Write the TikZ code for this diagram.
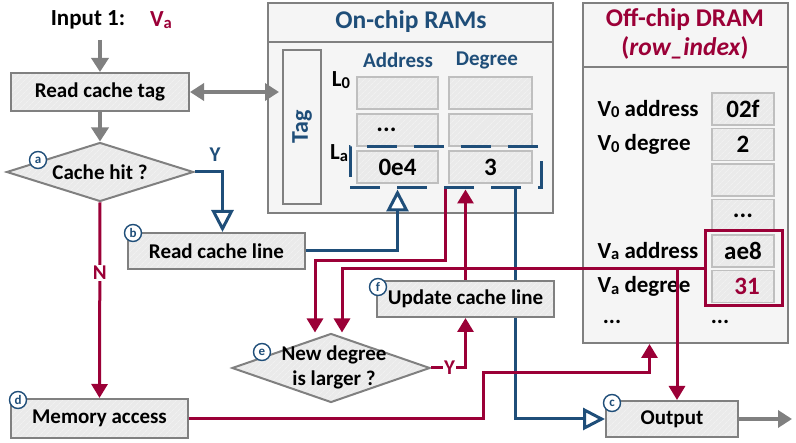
\documentclass[tikz,border=0pt]{standalone}
\usepackage{fontspec}
\usepackage{graphicx}
\setmainfont{Carlito}
\usetikzlibrary{arrows.meta,shapes.geometric,patterns.meta}
\definecolor{dblue}{RGB}{31,78,121}
\definecolor{dred}{RGB}{155,0,55}
\definecolor{lgray}{RGB}{128,128,128}
\definecolor{boxfill}{RGB}{234,234,234}
\definecolor{panelfill}{RGB}{245,245,245}
\newcommand{\lsub}[1]{\raisebox{-1.5pt}{\scalebox{0.72}{#1}}}
\tikzset{
  hatch/.style={preaction={fill=boxfill},preaction={pattern={Lines[angle=45,distance=4pt,line width=0.6pt]},pattern color=black!4}},
  proc/.style={draw=lgray,line width=2pt,hatch,inner sep=0pt},
  cell/.style={draw=black!25,line width=1.5pt,hatch,inner sep=0pt,minimum height=32pt,font=\bfseries\fontsize{25}{28}\selectfont},
  dia/.style={diamond,draw=lgray,line width=2pt,hatch,inner sep=0pt},
  panel/.style={draw=lgray,line width=2pt,fill=panelfill,inner sep=0pt},
  ttl/.style={font=\bfseries\fontsize{25.5}{28}\selectfont},
  hdr/.style={font=\bfseries\fontsize{21}{24}\selectfont,text=dblue},
  lbl/.style={font=\bfseries\fontsize{23}{26}\selectfont},
  letterc/.style={circle,draw=dblue,line width=1.4pt,fill=white,text=dblue,inner sep=0pt,minimum size=17pt,font=\bfseries\fontsize{13}{13}\selectfont},
  garrow/.style={draw=lgray,line width=4pt,-{Triangle[length=14pt,width=17pt]}},
  rline/.style={draw=dred,line width=3pt},
  rarrow/.style={rline,-{Triangle[length=14pt,width=16pt]}},
  barrow/.style={draw=dblue,line width=3pt,-{Triangle[length=22pt,width=22pt,fill=white]}}
}
\begin{document}
\begin{tikzpicture}[x=1pt,y=-1pt,font=\bfseries\fontsize{21}{25}\selectfont]
\useasboundingbox (0,0) rectangle (796,443);
% On-chip RAMs
\node[panel,minimum width=285pt,minimum height=210pt] (ram) at (410.5,108) {};
\draw[lgray,line width=2pt] (ram.west |- 0,42) -- (ram.east |- 0,42);
\node[ttl,text=dblue] (ramtitle) at (411,22) {On-chip RAMs};
\node[panel,minimum width=38pt,minimum height=154pt] (tagram) at (302,127) {};
\node[rotate=90,text=dblue,font=\bfseries\fontsize{24}{26}\selectfont] (tagtext) at (tagram) {Tag};
\node[hdr] (addr) at (398,60) {Address};
\node[hdr] (deg) at (487,60) {Degree};
\node[lbl] (l0) at (341,80) {L\lsub{0}};
\node[lbl] (la) at (339,153) {L\lsub{a}};
\node[cell,minimum width=81pt] (a0) at (397.5,93) {};
\node[cell,minimum width=83pt] (d0) at (490.5,93) {};
\node[cell,minimum width=81pt] (a1) at (397.5,130) {\hspace*{-22pt}...};
\node[cell,minimum width=83pt] (d1) at (490.5,130) {};
\node[cell,minimum width=81pt] (a2) at (397.5,167) {0e4};
\node[cell,minimum width=83pt] (d2) at (490.5,167) {3};
\node[draw=dblue,line width=3pt,dash pattern=on 30pt off 17pt,minimum width=191pt,minimum height=41pt,inner sep=0pt] (lsel) at (445.5,167.5) {};
% Off-chip DRAM
\node[panel,minimum width=205pt,minimum height=340pt] (dram) at (685.5,173) {};
\draw[lgray,line width=2pt] (dram.west |- 0,67) -- (dram.east |- 0,67);
\node[ttl,text=dred] (dramtitle) at (685,20) {Off-chip DRAM};
\node[ttl,text=dred] (dramsub) at (685,48) {(\textit{row\_index})};
\node[cell,minimum width=62pt] (m0) at (743,109) {02f};
\node[cell,minimum width=62pt] (m1) at (743,144.5) {2};
\node[cell,minimum width=62pt] (m2) at (743,180) {};
\node[cell,minimum width=62pt] (m3) at (743,215.5) {...};
\node[cell,minimum width=62pt] (m4) at (743,251) {ae8};
\node[cell,minimum width=62pt,text=dred] (m5) at (743,286.5) {\hspace*{8pt}31};
\node[lbl,anchor=west] (v0a) at (594,109) {V\lsub{0} address};
\node[lbl,anchor=west] (v0d) at (594,144.5) {V\lsub{0} degree};
\node[lbl,anchor=west] (vaa) at (594,251) {V\lsub{a} address};
\node[lbl,anchor=west] (vad) at (594,286.5) {V\lsub{a} degree};
\node[lbl] (dots1) at (612,322) {...};
\node[lbl] (dots2) at (720,322) {...};
\node[draw=dred,line width=3pt,minimum width=77pt,minimum height=75pt] (vsel) at (743.5,268.5) {};
% flow
\node[lbl] (input) at (88,20) {Input 1:};
\node[lbl,text=dred] (inva) at (161,20) {V\lsub{a}};
\coordinate (inarr) at (100,40);
\coordinate (outend) at (792,419);
\node[proc,minimum width=178pt,minimum height=38pt] (rtag) at (100,92) {Read cache tag};
\node[dia,minimum width=187pt,minimum height=59pt] (hit) at (100,172) {};
\node (hittext) at (100,172) {Cache hit ?};
\node[dia,minimum width=198pt,minimum height=69pt] (larger) at (331,368) {};
\node[align=center] (largertext) at (334,367) {New degree\\is larger ?};
\node[proc,minimum width=177pt,minimum height=36pt] (rline) at (216.5,251) {Read cache line};
\node[proc,minimum width=177pt,minimum height=39pt] (mem) at (99.5,418.5) {Memory access};
\node[proc,minimum width=132pt,minimum height=36pt] (out) at (672,419) {Output};
% connectors
\draw[garrow] (inarr) -- (rtag.north);
\draw[garrow,{Triangle[length=14pt,width=17pt]}-{Triangle[length=14pt,width=17pt]}] (rtag.east) -- ([xshift=-3pt]rtag.east -| tagram.west);
\draw[garrow] (rtag.south) -- (hit.north);
\draw[barrow] (hit.east) -| ([xshift=6pt]rline.north);
\node[text=dblue] (hity) at (215,155) {Y};
\draw[rarrow] (hit.south) -- node[pos=0.36,fill=white,text=dred,inner sep=1pt] (hitn) {N} (mem.north);
\draw[barrow] (rline.east) -| (lsel.south -| a2.south);
\draw[barrow] ([xshift=70pt]lsel.south) |- (out.west);
\node[proc,minimum width=177pt,minimum height=36pt] (upd) at (465.5,299) {Update cache line};
\draw[rarrow] (lsel.south) -- ++(0,71) -| ([xshift=-16pt]larger.north);
\draw[rarrow] (vsel.west) -| ([xshift=11pt]larger.north);
\draw[rarrow] ([xshift=5pt]out.north |- vsel.west) -- ([xshift=5pt]out.north);
\draw[rarrow] (upd.north) -- (upd.north |- lsel.south);
\draw[rarrow] (larger.east) -| node[pos=0.27,fill=white,text=dred,inner sep=1pt] (largery) {Y} (upd.south);
\coordinate (mj) at (483,373);
\draw[rarrow] (mem.east) -| (mj) -| ([xshift=-36pt]dram.south);
\draw[garrow] (out.east) -- (outend);
% step letters
\node[letterc] (sa) at (38,160) {a};
\node[letterc] (sb) at (133,233) {b};
\node[letterc] (sc) at (612,403) {c};
\node[letterc] (sd) at (18,400) {d};
\node[letterc] (se) at (262,352) {e};
\node[letterc] (sf) at (378,287) {f};
\end{tikzpicture}
\end{document}
